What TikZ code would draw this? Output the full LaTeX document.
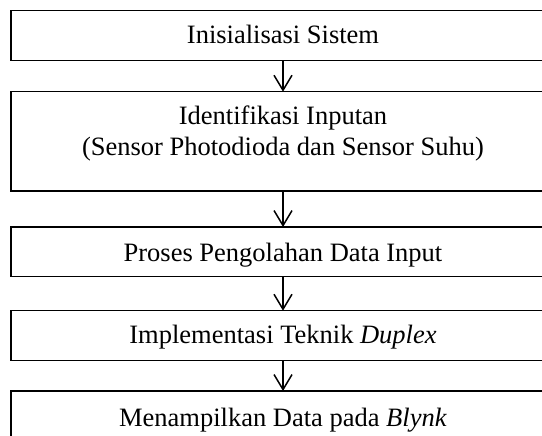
\documentclass[tikz,border=0pt]{standalone}
\usepackage{fontspec}
\setmainfont{Liberation Serif}
\usetikzlibrary{arrows.meta}
\begin{document}
\begin{tikzpicture}[x=1pt,y=-1pt,
  box/.style={draw, line width=1.5pt, rectangle, minimum width=544pt, inner sep=0pt, outer sep=0pt},
  lbl/.style={anchor=base, inner sep=0pt, font=\fontsize{26.5}{31}\selectfont},
  flow/.style={line width=1.5pt, -{Straight Barb[length=15pt,width=18pt]}}]
\useasboundingbox (0,0) rectangle (542,436);
\node[box, minimum height=49.6pt] (b1) at (283,35.5) {};
\node[box, minimum height=99.3pt] (b2) at (283,141.35) {};
\node[box, minimum height=49.7pt] (b3) at (283,251.85) {};
\node[box, minimum height=49.6pt] (b4) at (283,335.5) {};
\node[box, minimum height=49.6pt] (b5) at (283,415.8) {};
\node[lbl] (t1) at (283,44) {Inisialisasi Sistem};
\node[lbl] (t2) at (283,125) {Identifikasi Inputan};
\node[lbl] (t2b) at (283,156) {(Sensor Photodioda dan Sensor Suhu)};
\node[lbl] (t3) at (283,261.5) {Proses Pengolahan Data Input};
\node[lbl] (t4) at (283,343.5) {Implementasi Teknik \textit{Duplex}};
\node[lbl] (t5) at (283,426.5) {Menampilkan Data pada \textit{Blynk}};
\draw[flow] (b1) -- (b2);
\draw[flow] (b2) -- (b3);
\draw[flow] (b3) -- (b4);
\draw[flow] (b4) -- (b5);
\end{tikzpicture}
\end{document}
